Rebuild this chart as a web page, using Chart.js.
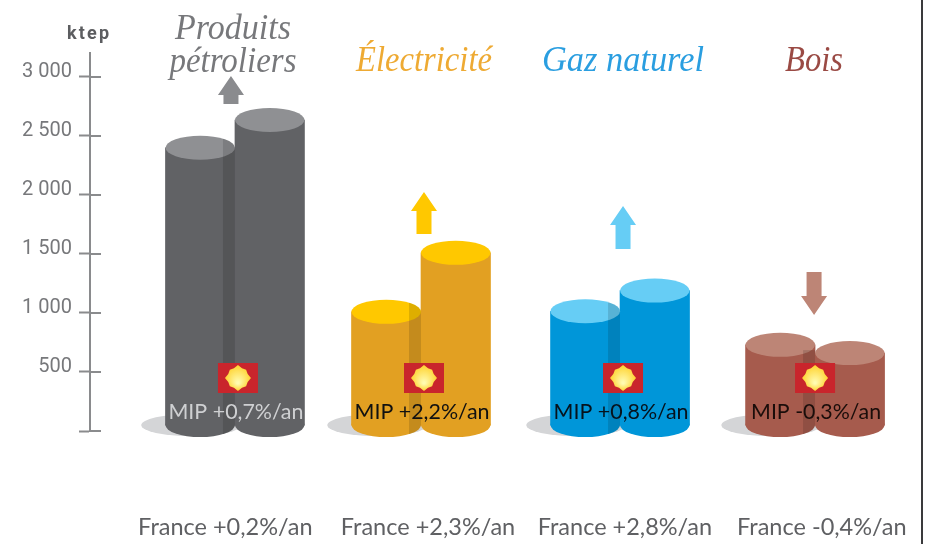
<!DOCTYPE html>
<html lang="fr"><head><meta charset="utf-8">
<style>html,body{margin:0;padding:0;background:#fff}canvas{display:block;filter:blur(.45px)}</style>
<script src="https://cdn.jsdelivr.net/npm/chart.js@4/dist/chart.umd.min.js"></script>
</head><body><canvas id="c" width="925" height="544"></canvas>
<script>
const categories=["Produits pétroliers","Électricité","Gaz naturel","Bois"];
const titleLines=[["Produits","pétroliers"],["Électricité"],["Gaz naturel"],["Bois"]];
const firstValues=[2400,1010,1015,730];
const secondValues=[2635,1510,1190,660];
const arrowFrom=[2771,1669,1542,1347];
const arrowTo=[3008,2025,1907,983];
const mipLabels=["MIP +0,7%/an","MIP +2,2%/an","MIP +0,8%/an","MIP -0,3%/an"];
const franceLabels=["France +0,2%/an","France +2,3%/an","France +2,8%/an","France -0,4%/an"];
const yTickValues=[0,500,1000,1500,2000,2500,3000];
const yTickLabels=["","500","1 000","1 500","2 000","2 500","3 000"];

const bodyColors=["#616265","#e2a022","#0096d9","#a65b4d"];
const capColors=["#8f9093","#ffc800","#66cdf5","#bd8576"];
const titleColors=["#77787b","#eeaa33","#2a9ee0","#9a4a44"];
const arrowColors=["#8a8b8e","#ffc800","#66cdf5","#bd8576"];
const mipColors=["#cfd0d2","#111","#06121c","#1a0d0a"];
const groupNudge=[0,-7,-1,1];
const franceTickAt=[-0.05,1.0,2.02,3.04];
const RY=12, BAR=69.5, SERIF='"Liberation Serif",serif', SANS='Lato,sans-serif', NARROW='Roboto,sans-serif';

function cyl(ctx,x,top,bot,rx){ctx.beginPath();ctx.moveTo(x-rx,top);ctx.ellipse(x,top,rx,RY,0,Math.PI,2*Math.PI);ctx.lineTo(x+rx,bot);ctx.ellipse(x,bot,rx,RY,0,0,Math.PI);ctx.closePath();}
function ell(ctx,x,y,rx,ry,c){ctx.fillStyle=c;ctx.beginPath();ctx.ellipse(x,y,rx,ry,0,0,2*Math.PI);ctx.fill();}

const cylinders={id:'cylinders',
 afterDatasetsUpdate(ch){[0,1].forEach(d=>ch.getDatasetMeta(d).data.forEach((el,i)=>{el.x+=groupNudge[i];}));},
 beforeDatasetsDraw(ch){const c=ch.ctx,a=ch.getDatasetMeta(0).data;
  a.forEach(el=>ell(c,el.x-9,el.base,50,11,'#d4d5d7'));},
 afterDatasetsDraw(ch){const c=ch.ctx,L=ch.getDatasetMeta(0).data,R=ch.getDatasetMeta(1).data,y=ch.scales.y;
  L.forEach((l,i)=>{const r=R[i],rx=BAR/2;
   ell(c,r.x,r.base,rx,RY,bodyColors[i]);ell(c,l.x,l.base,rx,RY,bodyColors[i]);
   const pair=l.y>r.y?[l,r]:[r,l];
   pair.forEach(e=>ell(c,e.x,e.y,rx,RY,capColors[i]));
   c.save();cyl(c,l.x,l.y,l.base,rx);c.clip();c.fillStyle='rgba(0,0,0,.13)';
   const sx=l.x+rx;c.fillRect(sx-12,r.y-3,12,l.base+RY-r.y+3);c.restore();
   // arrow
   const ax=sx+(i==3?-1:i==0?-4:3),y0=y.getPixelForValue(arrowFrom[i]),y1=y.getPixelForValue(arrowTo[i]),dir=y1<y0?-1:1;
   const hb=y1-dir*19;c.fillStyle=arrowColors[i];c.beginPath();
   c.moveTo(ax-7.5,y0);c.lineTo(ax-7.5,hb);c.lineTo(ax-13,hb);c.lineTo(ax,y1);c.lineTo(ax+13,hb);c.lineTo(ax+7.5,hb);c.lineTo(ax+7.5,y0);c.closePath();c.fill();
   // badge
   const bx=sx+(i==3?0:3),by=378;c.fillStyle='#c9252c';c.fillRect(bx-20,by-15,40,30);
   const g=c.createRadialGradient(bx,by+5,1,bx,by,13);g.addColorStop(0,'#fffbb0');g.addColorStop(1,'#ffd22e');
   c.fillStyle=g;c.beginPath();for(let k=0;k<16;k++){const t=k*Math.PI/8-Math.PI/2,q=k%4==0?13:(k%2==0?11.5:10.5);c.lineTo(bx+q*Math.cos(t),by+q*Math.sin(t));}c.closePath();c.fill();
   // MIP label
   c.fillStyle=mipColors[i];c.font='21.5px '+SANS;c.textAlign='center';c.textBaseline='middle';
   c.fillText(mipLabels[i],sx+1,412,i==3?130:135);
   // title
   c.fillStyle=titleColors[i];c.font='italic 35px '+SERIF;
   titleLines[i].forEach((t,k,arr)=>{const ty=arr.length==2?29.5+k*33:62;c.fillText(t,sx+(i==0?-2:i==3?-1:3),ty,i==0?(k?127:116):i==1?136:i==2?162:58);});
  });
  // ktep + right halves of ticks
  c.fillStyle='#5c5d60';c.font='bold 18px '+NARROW;c.textAlign='left';c.textBaseline='middle';
  c.letterSpacing='2.2px';c.fillText('ktep',67,34);c.letterSpacing='0px';
  c.strokeStyle='#8a8b8d';c.lineWidth=2;
  yTickValues.forEach(v=>{const p=Math.round(y.getPixelForValue(v));c.beginPath();c.moveTo(90,p);c.lineTo(101,p);c.stroke();});
  c.fillStyle='#3a3a3c';c.fillRect(921,0,2,544);
 }};

new Chart(document.getElementById('c'),{type:'bar',
 data:{datasets:[
  {label:'Première période',data:firstValues.map((v,i)=>({x:i,y:v})),backgroundColor:bodyColors,base:50},
  {label:'Seconde période',data:secondValues.map((v,i)=>({x:i,y:v})),backgroundColor:bodyColors,base:50}]},
 options:{responsive:false,animation:false,barThickness:BAR,
  layout:{padding:{top:53,right:15,left:0,bottom:0}},
  plugins:{legend:{display:false},tooltip:{enabled:false},title:{display:false}},
  scales:{
   x:{type:'linear',offset:false,min:-0.751,max:3.497,grid:{display:false},border:{display:false},
    afterBuildTicks:s=>{s.ticks=franceTickAt.map(v=>({value:v}));},
    afterFit:s=>{s.height=113;s.paddingLeft=0;s.paddingRight=0;},
    ticks:{autoSkip:false,maxRotation:0,padding:74,color:'#5f6063',font:{family:'Lato',size:23.5},
     callback:(v,i)=>franceLabels[i]}},
   y:{min:0,max:3203,border:{color:'#8a8b8d',width:2},
    grid:{drawOnChartArea:false,tickLength:11,tickWidth:2,tickColor:'#8a8b8d'},
    afterBuildTicks:s=>{s.ticks=yTickValues.map(v=>({value:v}));},
    afterFit:s=>{s.width=90;},
    ticks:{padding:7,labelOffset:-5,color:'#77787b',font:{family:'Roboto',size:20},
     callback:(v)=>yTickLabels[yTickValues.indexOf(v)]}}
  }},
 plugins:[cylinders]});
</script></body></html>
